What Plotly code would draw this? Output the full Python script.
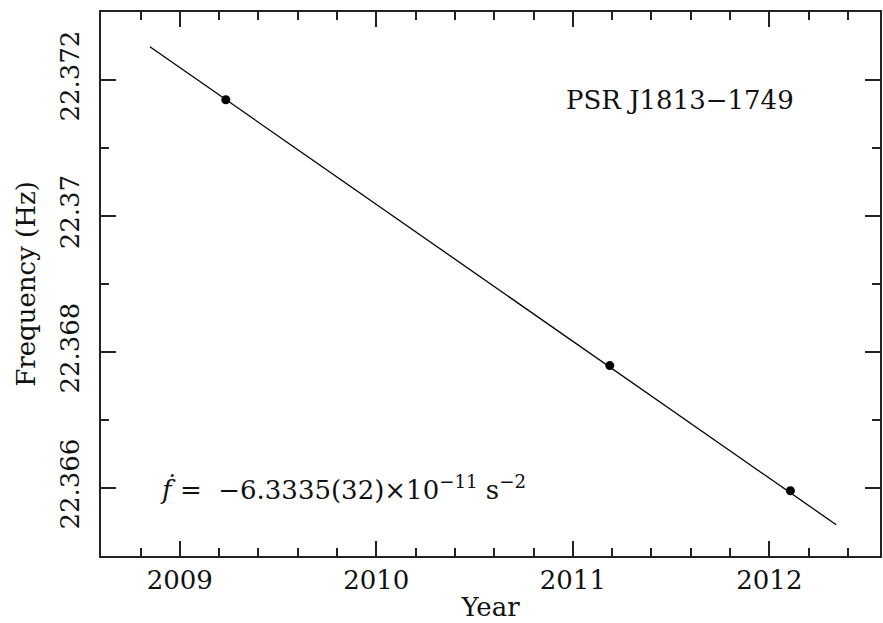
import plotly.graph_objects as go

# Data
obs_year = [2009.234, 2011.188, 2012.107]
obs_freq = [22.37171, 22.36780, 22.36596]

fit_year = [2008.848, 2012.340]
fit_freq = [22.37249, 22.36546]

x_tick_vals = [2009, 2010, 2011, 2012]
x_tick_text = ["2009", "2010", "2011", "2012"]
y_tick_vals = [22.366, 22.368, 22.370, 22.372]
y_tick_text = ["22.366", "22.368", "22.37", "22.372"]

FONT = "DejaVu Serif"

fig = go.Figure()
fig.add_trace(go.Scatter(x=fit_year, y=fit_freq, mode="lines",
                         line=dict(color="black", width=1.3), showlegend=False,
                         hoverinfo="skip"))
fig.add_trace(go.Scatter(x=obs_year, y=obs_freq, mode="markers",
                         marker=dict(color="black", size=9), showlegend=False))

axis_common = dict(
    showline=True, linecolor="#222", linewidth=1.6, mirror="allticks",
    ticks="inside", ticklen=15, tickwidth=1.5, tickcolor="#222",
    showgrid=False, zeroline=False,
    tickfont=dict(family=FONT, size=26, color="#111"),
)

fig.update_xaxes(
    range=[2008.599, 2012.563], tickmode="array",
    tickvals=x_tick_vals, ticktext=x_tick_text,
    minor=dict(tickmode="linear", tick0=2009, dtick=0.2, ticks="inside",
               ticklen=8, tickwidth=1.5, tickcolor="#222", showgrid=False),
    title=dict(text="Year", font=dict(family=FONT, size=26, color="#111"), standoff=4),
    **axis_common,
)
fig.update_yaxes(
    range=[22.365, 22.373], tickmode="array",
    tickvals=y_tick_vals, ticktext=y_tick_text, tickangle=-90,
    ticklabelstandoff=10,
    minor=dict(tickmode="linear", tick0=22.365, dtick=0.001, ticks="inside",
               ticklen=8, tickwidth=1.5, tickcolor="#222", showgrid=False),
    title=dict(text="Frequency (Hz)", font=dict(family=FONT, size=26, color="#111"), standoff=12),
    **axis_common,
)

fig.add_annotation(x=0.743, y=0.838, xref="paper", yref="paper",
                   text="PSR J1813\u22121749", showarrow=False,
                   font=dict(family=FONT, size=26, color="#111"),
                   xanchor="center", yanchor="middle")
fig.add_annotation(x=0.073, y=0.125, xref="paper", yref="paper",
                   text="<i>\u1e1f</i> =  \u22126.3335(32)\u00d710<sup>\u221211</sup> s<sup>\u22122</sup>",
                   showarrow=False,
                   font=dict(family=FONT, size=26, color="#111"),
                   xanchor="left", yanchor="middle")

fig.update_layout(
    width=883, height=623,
    margin=dict(l=101, r=1, t=12, b=67, pad=0),
    plot_bgcolor="white", paper_bgcolor="white",
)

fig.write_html("out.html")
